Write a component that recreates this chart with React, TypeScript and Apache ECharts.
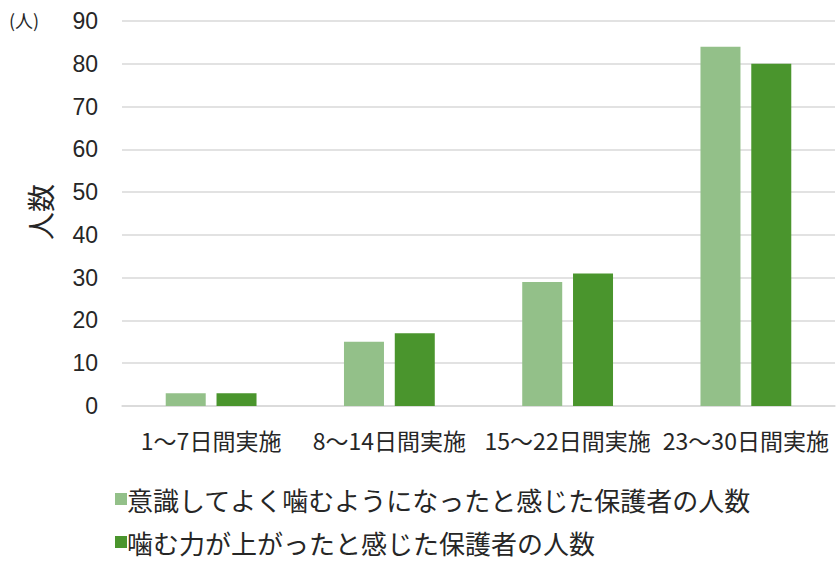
import { useEffect, useRef } from "react";
import * as echarts from "echarts";

const categories = ["1～7日間実施", "8～14日間実施", "15～22日間実施", "23～30日間実施"];
const seriesNames = ["意識してよく噛むようになったと感じた保護者の人数", "噛む力が上がったと感じた保護者の人数"];
const consciousChew = [3, 15, 29, 84];
const strongerChew = [3, 17, 31, 80];

const FONT = '"Noto Sans CJK JP", "Noto Sans", sans-serif';

export default function App() {
  const chartRef = useRef<HTMLDivElement>(null);

  useEffect(() => {
    document.body.style.margin = "0";
    if (!chartRef.current) return;
    const chart = echarts.init(chartRef.current, undefined, { renderer: "svg" });
    chart.setOption({
      animation: false,
      textStyle: { fontFamily: FONT },
      grid: { left: 122, right: 5, top: 21, bottom: 161 },
      xAxis: {
        type: "category",
        data: categories,
        axisLine: { lineStyle: { color: "#d9d9d9", width: 1.5 } },
        axisTick: { show: false },
        axisLabel: { interval: 0, color: "#262626", fontSize: 23, margin: 22, fontFamily: FONT },
      },
      yAxis: {
        type: "value",
        min: 0,
        max: 90,
        interval: 10,
        axisLine: { show: false },
        axisTick: { show: false },
        splitLine: { lineStyle: { color: "#d9d9d9", width: 1.5 } },
        axisLabel: { color: "#262626", fontSize: 23, margin: 24, fontFamily: "Liberation Sans, Arial, sans-serif" },
      },
      legend: {
        orient: "vertical",
        left: 110,
        top: 481,
        itemGap: 17,
        icon: "rect",
        itemWidth: 12,
        itemHeight: 12,
        textStyle: { fontSize: 26, color: "#262626", fontFamily: FONT, padding: [0, 0, 0, -5] },
        data: seriesNames,
      },
      graphic: [
        {
          type: "text",
          left: 9,
          top: 11,
          style: { text: "(人)", fontSize: 18, fill: "#262626", fontFamily: FONT },
        },
        {
          type: "text",
          x: 40,
          y: 212,
          rotation: Math.PI / 2,
          style: {
            text: "人数",
            fontSize: 28,
            fill: "#262626",
            fontFamily: FONT,
            align: "center",
            verticalAlign: "middle",
          },
        },
      ],
      series: [
        {
          name: seriesNames[0],
          type: "bar",
          data: consciousChew,
          barWidth: 40,
          barGap: "27%",
          itemStyle: { color: "#93c089" },
        },
        {
          name: seriesNames[1],
          type: "bar",
          data: strongerChew,
          barWidth: 40,
          itemStyle: { color: "#4a952d" },
        },
      ],
    });
    return () => chart.dispose();
  }, []);

  return <div ref={chartRef} style={{ width: 840, height: 567 }} />;
}
